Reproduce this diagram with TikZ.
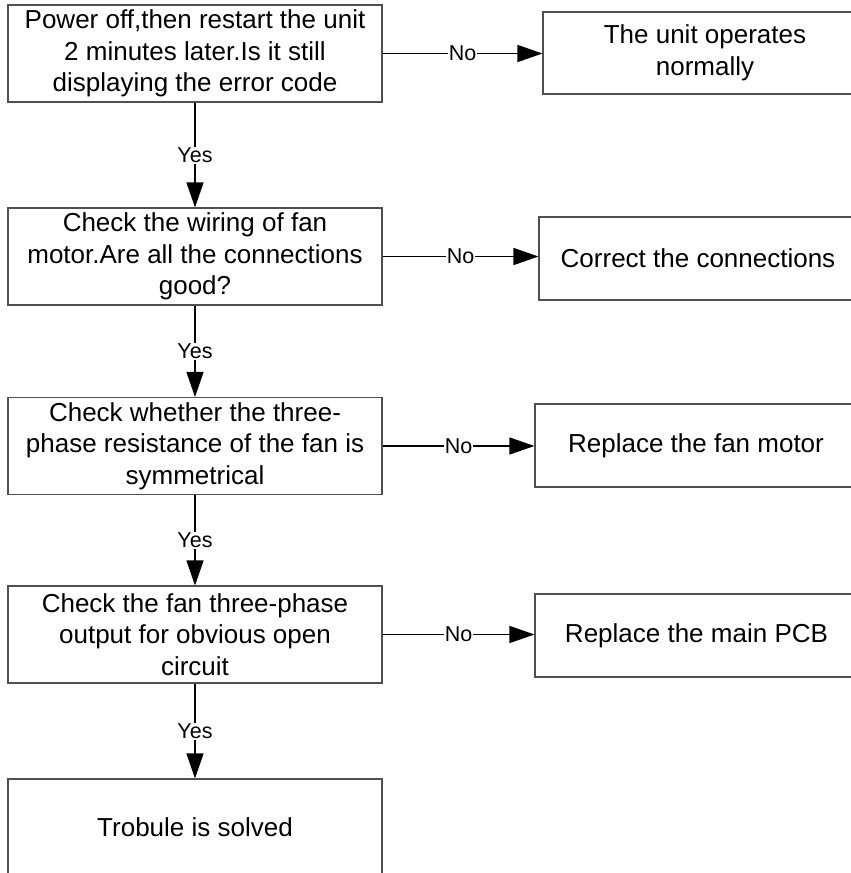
\documentclass[tikz,border=0pt]{standalone}
\usepackage{fontspec}
\setmainfont{Liberation Sans}
\usetikzlibrary{arrows.meta}
\definecolor{boxgray}{HTML}{505050}
\tikzset{
  stepbox/.style={draw=boxgray, line width=1.1pt, fill=white, inner sep=0pt,
    align=center, font=\fontsize{26}{31.5}\selectfont},
  mainbox/.style={stepbox, minimum width=374pt, minimum height=97pt},
  flowline/.style={draw=black, line width=1.3pt, -{Triangle[length=25pt,width=17pt]}},
  lbl/.style={fill=white, inner sep=1pt, font=\fontsize{21.5}{25}\selectfont}
}
\begin{document}
\begin{tikzpicture}[x=1pt, y=-1pt]
\useasboundingbox (0,0) rectangle (851,873);
\clip (0,0) rectangle (851,873);
\fill[white] (0,0) rectangle (851,873);
% left column
\node[mainbox] (b1) at (195,53.5) {Power off,then restart the unit\\2 minutes later.Is it still\\displaying the error code};
\node[mainbox] (b2) at (195,256.5) {Check the wiring of fan\\motor.Are all the connections\\good?};
\node[mainbox] (b3) at (195,446) {Check whether the three-\\phase resistance of the fan is\\symmetrical};
\node[mainbox] (b4) at (195,634.5) {Check the fan three-phase\\output for obvious open\\circuit};
\node[mainbox] (b5) at (195,827.5) {Trobule is solved};
% right column
\node[stepbox, minimum width=324pt, minimum height=82pt] (r1) at (705,53) {The unit operates\\normally};
\node[stepbox, minimum width=318pt, minimum height=83pt] (r2) at (698,258.5) {Correct the connections};
\node[stepbox, minimum width=322pt, minimum height=83pt] (r3) at (696,445.5) {Replace the fan motor};
\node[stepbox, minimum width=323pt, minimum height=83pt] (r4) at (696.5,635.5) {Replace the main PCB};
% Yes connectors
\draw[flowline] (b1.south) -- node[lbl] {Yes} (b2.north);
\draw[flowline] (b2.south) -- node[lbl] {Yes} (b3.north);
\draw[flowline] (b3.south) -- node[lbl] {Yes} (b4.north);
\draw[flowline] (b4.south) -- node[lbl] {Yes} (b5.north);
% No connectors
\draw[flowline] (b1.east) -- node[lbl] {No} (b1.east -| r1.west);
\draw[flowline] (b2.east) -- node[lbl] {No} (b2.east -| r2.west);
\draw[flowline] (b3.east) -- node[lbl] {No} (b3.east -| r3.west);
\draw[flowline] (b4.east) -- node[lbl] {No} (b4.east -| r4.west);
\end{tikzpicture}
\end{document}
